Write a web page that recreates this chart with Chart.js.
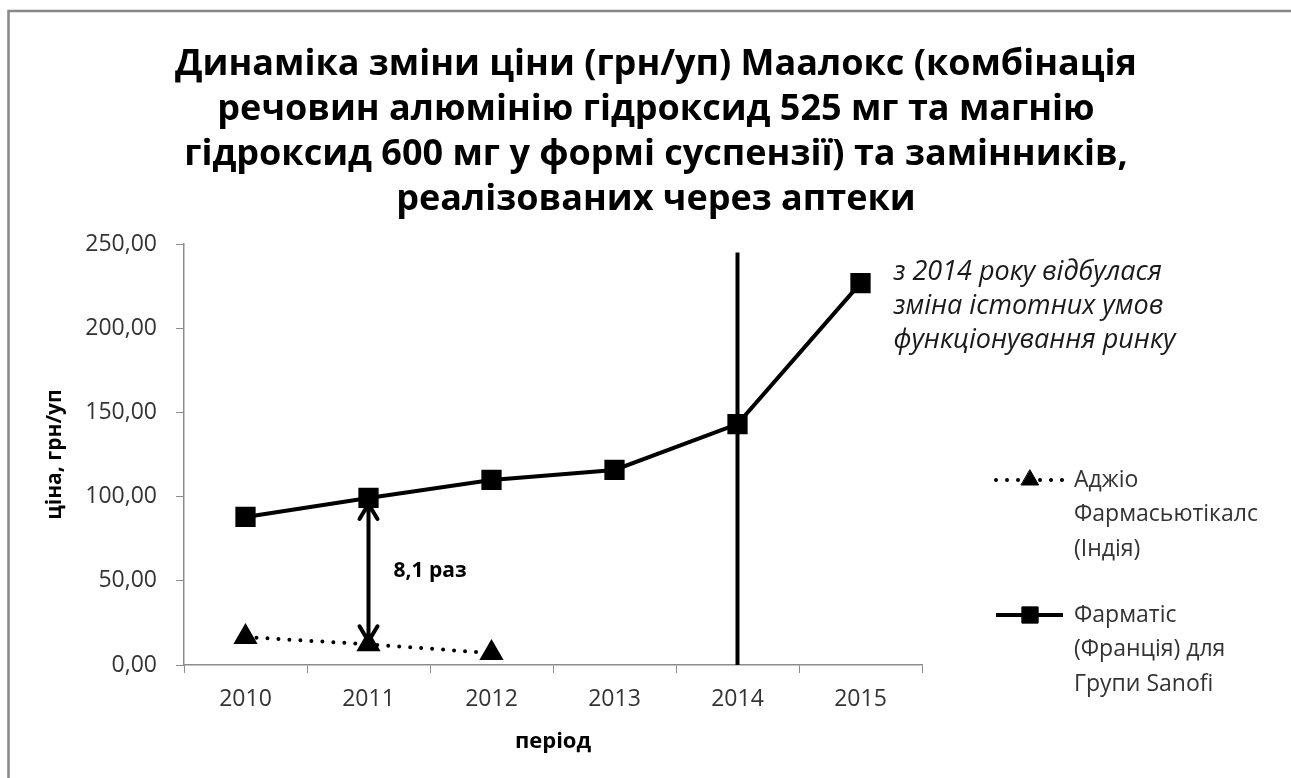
<!DOCTYPE html>
<html>
<head>
<meta charset="utf-8">
<script src="https://cdn.jsdelivr.net/npm/chart.js@4.4.0/dist/chart.umd.min.js"></script>
<style>
  html, body { margin: 0; padding: 0; background: #fff; overflow: hidden; }
  #wrap { width: 1291px; height: 778px; }
</style>
</head>
<body>
<div id="wrap"><canvas id="chart"></canvas></div>
<script>
// data
const years = ['2010', '2011', '2012', '2013', '2014', '2015'];
const ajioPrices = [16.6, 12.3, 7.1, null, null, null];
const sanofiPrices = [87.9, 99.2, 109.9, 115.8, 143.1, 226.8];
const yTicks = [0, 50, 100, 150, 200, 250];
const seriesNames = [
  ['Аджіо', 'Фармасьютікалс', '(Індія)'],
  ['Фарматіс', '(Франція) для', 'Групи Sanofi']
];
const titleLines = [
  'Динаміка зміни ціни (грн/уп) Маалокс (комбінація',
  'речовин алюмінію гідроксид 525 мг та магнію',
  'гідроксид 600 мг у формі суспензії) та замінників,',
  'реалізованих через аптеки'
];
const noteLines = ['з 2014 року відбулася', 'зміна істотних умов', 'функціонування ринку'];
const ratioLabel = '8,1 раз';
const ratioYear = '2011';
const breakYear = '2014';

const FONT = "'Open Sans', 'Noto Sans', sans-serif";
const AXIS_GRAY = '#8c8c8c';

// border, title, vertical break line, arrow, notes and legend
const extras = {
  id: 'extras',
  beforeDraw(chart) {
    const ctx = chart.ctx;
    ctx.save();
    ctx.strokeStyle = '#878787';
    ctx.lineWidth = 2.5;
    ctx.beginPath();
    ctx.moveTo(8.5, 2000);
    ctx.lineTo(8.5, 11);
    ctx.lineTo(2000, 11);
    ctx.stroke();

    ctx.fillStyle = '#000';
    ctx.font = 'bold 36px ' + FONT;
    ctx.textAlign = 'center';
    ctx.textBaseline = 'middle';
    titleLines.forEach((t, k) => ctx.fillText(t, 656, 65 + k * 45));
    ctx.restore();
  },
  beforeDatasetsDraw(chart) {
    const ctx = chart.ctx, x = chart.scales.x, y = chart.scales.y;
    const bx = x.getPixelForValue(years.indexOf(breakYear));
    ctx.save();
    ctx.strokeStyle = '#000';
    ctx.lineWidth = 4;
    ctx.beginPath();
    ctx.moveTo(bx, y.getPixelForValue(245));
    ctx.lineTo(bx, y.getPixelForValue(0));
    ctx.stroke();
    ctx.restore();
  },
  afterDatasetsDraw(chart) {
    const ctx = chart.ctx, x = chart.scales.x, y = chart.scales.y;
    const i = years.indexOf(ratioYear);
    const ax = x.getPixelForValue(i);
    const yTop = y.getPixelForValue(sanofiPrices[i]) + 6;
    const yBot = y.getPixelForValue(ajioPrices[i]) - 3;
    ctx.save();
    ctx.strokeStyle = '#000';
    ctx.lineWidth = 4;
    ctx.lineCap = 'round';
    ctx.beginPath();
    ctx.moveTo(ax, yTop); ctx.lineTo(ax, yBot);
    ctx.moveTo(ax - 9, yTop + 15); ctx.lineTo(ax, yTop); ctx.lineTo(ax + 9, yTop + 15);
    ctx.moveTo(ax - 9, yBot - 15); ctx.lineTo(ax, yBot); ctx.lineTo(ax + 9, yBot - 15);
    ctx.stroke();

    ctx.fillStyle = '#000';
    ctx.textBaseline = 'middle';
    ctx.textAlign = 'left';
    ctx.font = 'bold 21px ' + FONT;
    const midVal = (sanofiPrices[i] + ajioPrices[i]) / 2;
    ctx.fillText(ratioLabel, ax + 25, y.getPixelForValue(midVal));

    const nx = x.getPixelForValue(years.length - 1) + 33;
    ctx.font = 'italic 27px ' + FONT;
    ctx.fillStyle = '#1a1a1a';
    noteLines.forEach((t, k) => ctx.fillText(t, nx, chart.chartArea.top + 28 + k * 34));
    ctx.restore();
  },
  afterDraw(chart) {
    const ctx = chart.ctx;
    const rows = [480, 615];
    ctx.save();
    chart.data.datasets.forEach((ds, k) => {
      const cy = rows[k];
      ctx.strokeStyle = ds.borderColor;
      ctx.lineWidth = ds.borderWidth;
      ctx.lineCap = ds.borderCapStyle || 'butt';
      ctx.setLineDash(ds.borderDash || []);
      ctx.beginPath();
      ctx.moveTo(996, cy);
      ctx.lineTo(1063, cy);
      ctx.stroke();
      ctx.setLineDash([]);
      ctx.fillStyle = '#000';
      ctx.strokeStyle = '#000';
      ctx.lineWidth = 1;
      Chart.helpers.drawPoint(ctx, { pointStyle: ds.pointStyle, radius: ds.pointRadius, borderWidth: 1 }, 1030, cy);
      ctx.fillStyle = '#333';
      ctx.font = '23px ' + FONT;
      ctx.textAlign = 'left';
      ctx.textBaseline = 'middle';
      seriesNames[k].forEach((t, j) => ctx.fillText(t, 1074, cy + j * 34.5));
    });
    ctx.restore();
  }
};

new Chart(document.getElementById('chart'), {
  type: 'line',
  data: {
    labels: years,
    datasets: [
      {
        label: seriesNames[0].join(' '),
        data: ajioPrices,
        borderColor: '#000',
        backgroundColor: '#000',
        borderWidth: 4,
        borderDash: [0, 11],
        borderCapStyle: 'round',
        pointStyle: 'triangle',
        pointRadius: 10,
        pointBackgroundColor: '#000',
        pointBorderColor: '#000',
        tension: 0
      },
      {
        label: seriesNames[1].join(' '),
        data: sanofiPrices,
        borderColor: '#000',
        backgroundColor: '#000',
        borderWidth: 4,
        pointStyle: 'rect',
        pointRadius: 11.5,
        pointBackgroundColor: '#000',
        pointBorderColor: '#000',
        tension: 0
      }
    ]
  },
  options: {
    responsive: true,
    maintainAspectRatio: false,
    animation: false,
    layout: { padding: { left: 40, right: 369, top: 244, bottom: 13 } },
    plugins: {
      legend: { display: false },
      tooltip: { enabled: false },
      title: { display: false }
    },
    scales: {
      x: {
        offset: true,
        grid: { offset: true, drawOnChartArea: false, color: AXIS_GRAY, tickLength: 8 },
        border: { color: AXIS_GRAY, width: 1.5 },
        ticks: { color: '#333', font: { family: FONT, size: 23 }, padding: 13, maxRotation: 0 },
        title: { display: true, text: 'період', color: '#000', font: { family: FONT, size: 22, weight: 'bold' }, padding: { top: 0, bottom: 10 } },
        afterFit(scale) { scale.height = 100; }
      },
      y: {
        min: 0,
        max: 250,
        afterBuildTicks(scale) { scale.ticks = yTicks.map(v => ({ value: v })); },
        grid: { drawOnChartArea: false, color: AXIS_GRAY, tickLength: 8 },
        border: { color: AXIS_GRAY, width: 1.5 },
        ticks: {
          color: '#333',
          font: { family: FONT, size: 23 },
          padding: 19,
          callback: v => v.toFixed(2).replace('.', ',')
        },
        title: { display: true, text: 'ціна, грн/уп', color: '#000', font: { family: FONT, size: 21, weight: 'bold' }, padding: { top: 2, bottom: 0 } },
        afterFit(scale) { scale.width = 144; }
      }
    }
  },
  plugins: [extras]
});
</script>
</body>
</html>
